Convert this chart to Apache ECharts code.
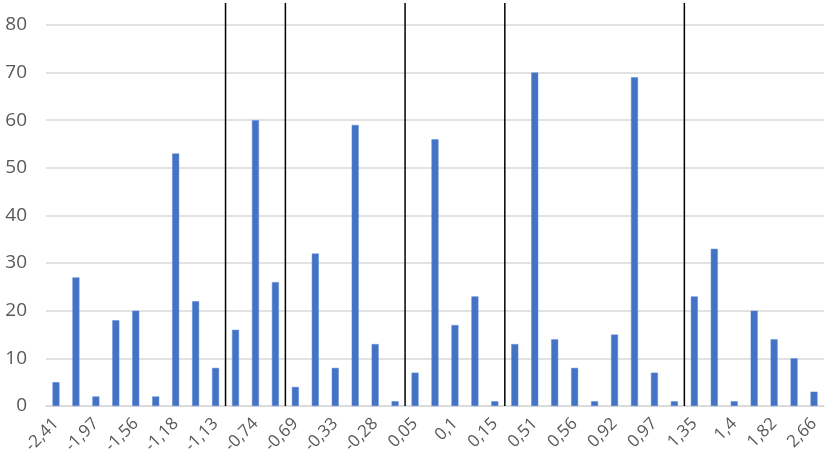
<!DOCTYPE html>
<html><head><meta charset="utf-8">
<script src="https://cdn.jsdelivr.net/npm/echarts@6/dist/echarts.min.js"></script>
<style>html,body{margin:0;padding:0;background:#fff}#c{width:829px;height:462px}</style>
</head><body><div id="c"></div>
<script>
// Tick labels shown on the axis (every other bar)
const tickLabels = ['-2,41','-1,97','-1,56','-1,18','-1,13','-0,74','-0,69','-0,33','-0,28','0,05','0,1','0,15','0,51','0,56','0,92','0,97','1,35','1,4','1,82','2,66'];
// Bar values, split by the groups separated with vertical lines
const group1 = [5, 27, 2, 18, 20, 2, 53, 22, 8];
const group2 = [16, 60, 26];
const group3 = [4, 32, 8, 59, 13, 1];
const group4 = [7, 56, 17, 23, 1];
const group5 = [13, 70, 14, 8, 1, 15, 69, 7, 1];
const group6 = [23, 33, 1, 20, 14, 10, 3];
const yTicks = [0, 10, 20, 30, 40, 50, 60, 70, 80];

const groups = [group1, group2, group3, group4, group5, group6];
const values = groups.flat();
const categories = values.map((v, i) => (i % 2 === 0 ? tickLabels[i / 2] : ''));
// index of first bar of each group after the first (separator positions)
const separators = [];
let acc = 0;
for (let g = 0; g < groups.length - 1; g++) { acc += groups[g].length; separators.push([acc, 0]); }

const font = "'Segoe UI','Open Sans','Noto Sans',sans-serif";
const chart = echarts.init(document.getElementById('c'), null, {renderer: 'canvas'});
chart.setOption({
  animation: false,
  grid: {left: 46, right: 5, top: 3, bottom: 56, containLabel: false},
  xAxis: {
    type: 'category', data: categories,
    axisLine: {show: true, lineStyle: {color: '#D9D9D9', width: 1.5}},
    axisTick: {show: false},
    axisLabel: {interval: 1, rotate: 45, color: '#595959', fontSize: 17, fontFamily: font, margin: 15}
  },
  yAxis: {
    type: 'value', min: yTicks[0], max: 84.6, interval: 10,
    axisLine: {show: false}, axisTick: {show: false},
    axisLabel: {color: '#595959', fontSize: 19, fontFamily: font, margin: 19, showMaxLabel: false},
    splitLine: {show: true, showMaxLine: false, lineStyle: {color: '#D9D9D9', width: 1.5}}
  },
  series: [
    {type: 'bar', data: values, barWidth: 7,
     itemStyle: {color: '#4472C4', borderColor: '#5B8BD9', borderWidth: 0.5}},
    {type: 'custom', data: separators, z: 5, encode: {x: 0, y: 1},
     renderItem: function (params, api) {
       const idx = api.value(0);
       const x = api.coord([idx, 0])[0] - api.size([1, 0])[0] / 2;
       const cs = params.coordSys;
       return {type: 'line', shape: {x1: x, y1: cs.y, x2: x, y2: cs.y + cs.height},
               style: {stroke: '#000', lineWidth: 1.5}};
     }}
  ]
});
</script></body></html>
